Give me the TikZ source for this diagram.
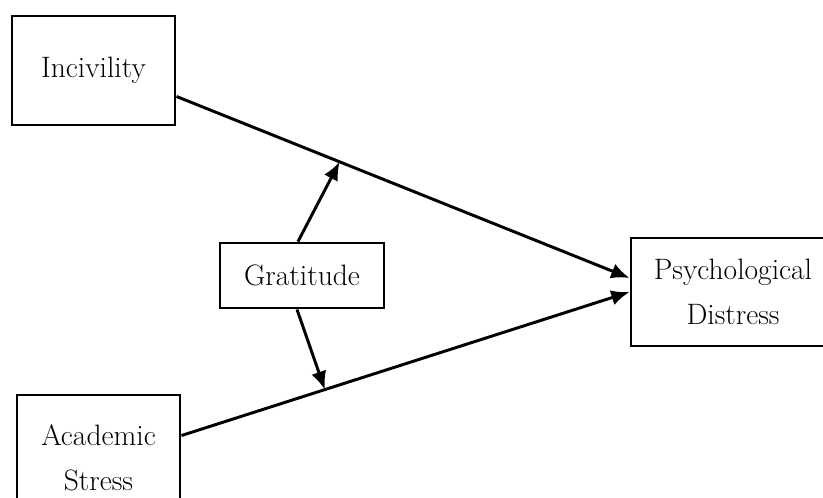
\documentclass[tikz,border=0pt]{standalone}
\usepackage{tikz}
\usetikzlibrary{positioning}
\usetikzlibrary{arrows.meta}
\tikzset{
    mybox/.style = {rectangle, line width=2.1pt, draw=black, align=center, fill=white, inner sep=0pt, font=\fontsize{21}{32}\selectfont, text=black},
    edgen/.style = {-, line width=2.1pt, black},
    edgea/.style = {-{Latex[length=13pt,width=11pt]}, line width=2.1pt, black}
}
\begin{document}
\begin{tikzpicture}[x=0.025cm,y=-0.025cm]
%
\path[use as bounding box] (0,0) rectangle (823,498);
%
\node[mybox,minimum width=163*0.025cm,minimum height=109*0.025cm] at (93.5,70.5) (inc) {Incivility};
\node[mybox,minimum width=164*0.025cm,minimum height=65*0.025cm] at (302,275.5) (grat) {Gratitude};
\node[mybox,minimum width=204*0.025cm,minimum height=108*0.025cm] at (733,292) (psy) {Psychological\\Distress};
\node[mybox,minimum width=163*0.025cm,minimum height=126*0.025cm] at (98.5,458) (acad) {Academic\\Stress};
%
\draw[edgea] ([yshift=0.75cm]inc.south east) -- coordinate[pos=0.36] (m1) ([yshift=0.35cm]psy.west);
\draw[edgea] ([yshift=-1.05cm]acad.north east) -- coordinate[pos=0.32] (m2) (psy.west);
\draw[edgea] ([xshift=-0.1cm]grat.north) -- (m1);
\draw[edgea] ([xshift=-0.125cm]grat.south) -- (m2);

\end{tikzpicture}
\end{document}
